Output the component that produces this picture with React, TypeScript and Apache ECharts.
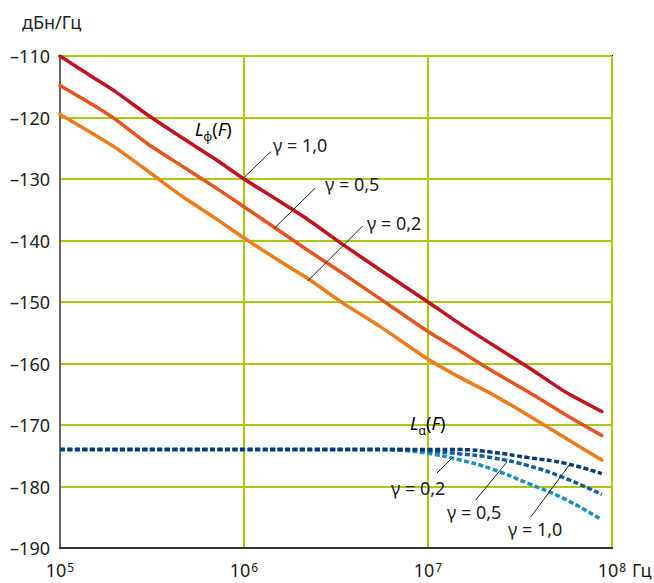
import React, { useEffect, useRef } from "react";
import * as echarts from "echarts";

// Frequencies (Hz) for the phase-noise curves L_phi(F)
const solidFreqs = [1e5, 1.5e5, 2e5, 3e5, 4.5e5, 7e5, 1e6, 1.5e6, 2.2e6, 3.5e6, 5.5e6, 1e7, 1.5e7, 2.2e7, 3.5e7, 5.5e7, 8.8e7];
const phiGamma10 = [-110, -113.4, -115.8, -119.6, -123.1, -126.8, -130, -133.3, -136.5, -140.8, -144.8, -150, -153.6, -156.8, -160.6, -164.5, -167.8];
const phiGamma05 = [-114.8, -117.9, -120.3, -124.3, -127.7, -131.4, -134.5, -138.1, -141.5, -145.5, -149.5, -154.8, -158.0, -161.1, -164.6, -168.2, -171.7];
const phiGamma02 = [-119.5, -122.6, -124.9, -128.7, -132.6, -136.4, -139.6, -143.0, -146.1, -150.3, -154.0, -159.3, -162.3, -164.9, -168.4, -172.0, -175.7];

// Frequencies (Hz) for the amplitude-noise curves L_alpha(F)
const dashFreqs = [1e5, 1e6, 3e6, 5e6, 7e6, 1e7, 1.5e7, 2.2e7, 3.5e7, 5.5e7, 8.8e7];
const alphaGamma10 = [-174, -174, -174, -174, -174, -174, -174.0, -174.4, -175.3, -176.2, -177.9];
const alphaGamma05 = [-174, -174, -174, -174, -174, -174.2, -174.7, -175.3, -176.6, -178.6, -181.3];
const alphaGamma02 = [-174, -174, -174, -174, -174.1, -174.6, -175.7, -177.1, -179.5, -182.0, -185.4];

const yTicks = [-190, -180, -170, -160, -150, -140, -130, -120, -110];

const FONT = '"Noto Sans", "Open Sans", sans-serif';
const GRID_GREEN = "#a9c812";

const pair = (xs: number[], ys: number[]) => xs.map((x, i) => [x, ys[i]]);

export default function App() {
  const ref = useRef<HTMLDivElement>(null);
  useEffect(() => {
    if (!ref.current) return;
    const chart = echarts.init(ref.current, undefined, { renderer: "svg" });
    const solid = (name: string, data: number[], color: string, z: number) => ({
      name,
      type: "line",
      data: pair(solidFreqs, data),
      symbol: "none",
      smooth: 0.2,
      z,
      lineStyle: { color, width: 3.5, cap: "round", join: "round" },
    });
    const dashed = (name: string, data: number[], color: string, z: number) => ({
      name,
      type: "line",
      data: pair(dashFreqs, data),
      symbol: "none",
      smooth: true,
      z,
      lineStyle: { color, width: 3.5, type: [5, 2.5] },
    });
    const txt = (text: string, x: number, y: number, extra: any = {}) => ({
      type: "text",
      x,
      y,
      z: 100,
      style: {
        text,
        font: `18px ${FONT}`,
        fill: "#222",
        textAlign: "left",
        textVerticalAlign: "middle",
        ...extra,
      },
    });
    const ln = (x1: number, y1: number, x2: number, y2: number) => ({
      type: "line",
      shape: { x1, y1, x2, y2 },
      style: { stroke: "#222", lineWidth: 1 },
      z: 100,
    });
    const rich = {
      i: { fontFamily: FONT, fontSize: 18, fontStyle: "italic", color: "#222" },
      n: { fontFamily: FONT, fontSize: 18, color: "#222" },
      sub: { fontFamily: FONT, fontSize: 12, color: "#222", verticalAlign: "bottom", lineHeight: 26 },
    };
    chart.setOption({
      animation: false,
      backgroundColor: "#fff",
      grid: {
        left: 60,
        right: 42,
        top: 56,
        bottom: 35,
        show: true,
        borderColor: "#1a1a1a",
        borderWidth: 2,
        backgroundColor: "transparent",
      },
      xAxis: {
        type: "log",
        logBase: 10,
        min: 1e5,
        max: 1e8,
        axisLine: { show: true, lineStyle: { color: "#333", width: 2 } },
        axisTick: { show: false },
        splitLine: { show: true, lineStyle: { color: GRID_GREEN, width: 2 } },
        axisLabel: {
          margin: 13,
          formatter: (v: number) => `{b|10}{s|${Math.round(Math.log10(v))}}`,
          rich: {
            b: { fontFamily: FONT, fontSize: 18, color: "#222", lineHeight: 18 },
            s: { fontFamily: FONT, fontSize: 12, color: "#222", lineHeight: 10, verticalAlign: "top", padding: [0, 0, 0, 1] },
          },
        },
      },
      yAxis: {
        type: "value",
        min: yTicks[0],
        max: yTicks[yTicks.length - 1],
        interval: 10,
        axisLine: { show: true, lineStyle: { color: "#666", width: 2 } },
        axisTick: { show: false },
        splitLine: { show: true, lineStyle: { color: GRID_GREEN, width: 2 } },
        axisLabel: {
          margin: 10,
          fontFamily: FONT,
          fontSize: 18,
          color: "#222",
          formatter: (v: number) => String(v).replace("-", "\u2013"),
        },
      },
      series: [
        dashed("La γ=0,2", alphaGamma02, "#1b8fc0", 3),
        dashed("La γ=0,5", alphaGamma05, "#105e9e", 4),
        dashed("La γ=1,0", alphaGamma10, "#0b3b77", 5),
        solid("Lφ γ=0,2", phiGamma02, "#f07b1b", 6),
        solid("Lφ γ=0,5", phiGamma05, "#e8531f", 7),
        solid("Lφ γ=1,0", phiGamma10, "#c4101c", 8),
      ],
      graphic: [
        txt("дБн/Гц", 22, 22),
        txt("Гц", 632, 570),
        {
          type: "text",
          x: 195,
          y: 129,
          style: { text: "{i|L}{sub|φ}{n|(}{i|F}{n|)}", rich, textVerticalAlign: "middle" },
          z: 100,
        },
        {
          type: "text",
          x: 410,
          y: 423,
          style: { text: "{i|L}{sub|α}{n|(}{i|F}{n|)}", rich, textVerticalAlign: "middle" },
          z: 100,
        },
        txt("γ = 1,0", 273, 145),
        txt("γ = 0,5", 325, 184),
        txt("γ = 0,2", 367, 223),
        txt("γ = 0,2", 391, 488),
        txt("γ = 0,5", 447, 512),
        txt("γ = 1,0", 508, 529),
        ln(270.7, 151.7, 243.3, 178.3),
        ln(315, 188.3, 274.3, 228.3),
        ln(362.7, 226, 307.7, 281),
        ln(437, 473, 453, 457),
        ln(475.7, 500, 507, 462),
        ln(531, 516.7, 570, 464),
      ],
    });
    return () => chart.dispose();
  }, []);
  return <div ref={ref} style={{ width: 654, height: 583, position: "absolute", left: 0, top: 0 }} />;
}
